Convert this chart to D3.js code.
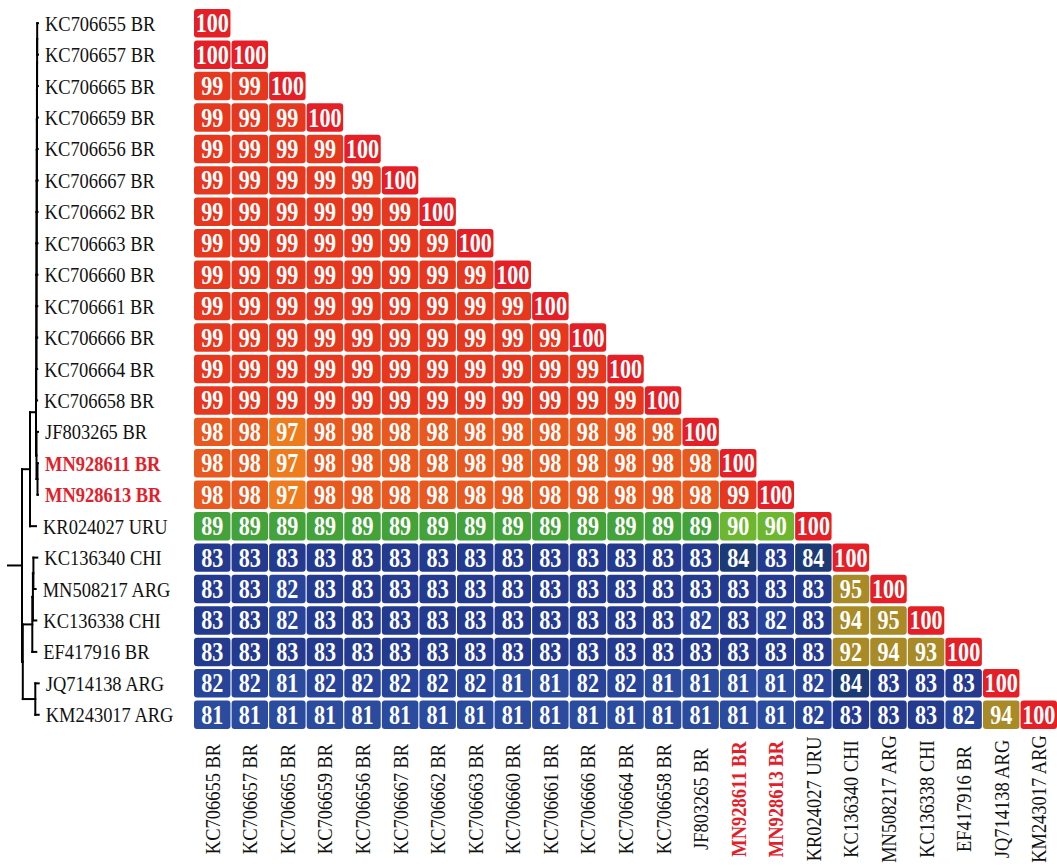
<!DOCTYPE html>
<html>
<head>
<meta charset="utf-8">
<script src="https://cdn.jsdelivr.net/npm/d3@7"></script>
<style>
  body { margin: 0; background: #fff; }
  svg { display: block; }
</style>
</head>
<body>
<svg id="chart" width="1057" height="866"></svg>
<script>
// Isolates, in tree order (rows top to bottom, columns left to right)
const taxa = [
  "KC706655 BR", "KC706657 BR", "KC706665 BR", "KC706659 BR", "KC706656 BR",
  "KC706667 BR", "KC706662 BR", "KC706663 BR", "KC706660 BR", "KC706661 BR",
  "KC706666 BR", "KC706664 BR", "KC706658 BR", "JF803265 BR", "MN928611 BR",
  "MN928613 BR", "KR024027 URU", "KC136340 CHI", "MN508217 ARG", "KC136338 CHI",
  "EF417916 BR", "JQ714138 ARG", "KM243017 ARG"
];

// Isolates sequenced in this study
const highlighted = ["MN928611 BR", "MN928613 BR"];

// Pairwise nucleotide identity (%), lower triangle, one row per isolate
const identityRows = [
  [100],
  [100, 100],
  [99, 99, 100],
  [99, 99, 99, 100],
  [99, 99, 99, 99, 100],
  [99, 99, 99, 99, 99, 100],
  [99, 99, 99, 99, 99, 99, 100],
  [99, 99, 99, 99, 99, 99, 99, 100],
  [99, 99, 99, 99, 99, 99, 99, 99, 100],
  [99, 99, 99, 99, 99, 99, 99, 99, 99, 100],
  [99, 99, 99, 99, 99, 99, 99, 99, 99, 99, 100],
  [99, 99, 99, 99, 99, 99, 99, 99, 99, 99, 99, 100],
  [99, 99, 99, 99, 99, 99, 99, 99, 99, 99, 99, 99, 100],
  [98, 98, 97, 98, 98, 98, 98, 98, 98, 98, 98, 98, 98, 100],
  [98, 98, 97, 98, 98, 98, 98, 98, 98, 98, 98, 98, 98, 98, 100],
  [98, 98, 97, 98, 98, 98, 98, 98, 98, 98, 98, 98, 98, 98, 99, 100],
  [89, 89, 89, 89, 89, 89, 89, 89, 89, 89, 89, 89, 89, 89, 90, 90, 100],
  [83, 83, 83, 83, 83, 83, 83, 83, 83, 83, 83, 83, 83, 83, 84, 83, 84, 100],
  [83, 83, 82, 83, 83, 83, 83, 83, 83, 83, 83, 83, 83, 83, 83, 83, 83, 95, 100],
  [83, 83, 82, 83, 83, 83, 83, 83, 83, 83, 83, 83, 83, 82, 83, 82, 83, 94, 95, 100],
  [83, 83, 83, 83, 83, 83, 83, 83, 83, 83, 83, 83, 83, 83, 83, 83, 83, 92, 94, 93, 100],
  [82, 82, 81, 82, 82, 82, 82, 82, 81, 81, 82, 82, 81, 81, 81, 81, 82, 84, 83, 83, 83, 100],
  [81, 81, 81, 81, 81, 81, 81, 81, 81, 81, 81, 81, 81, 81, 81, 81, 82, 83, 83, 83, 82, 94, 100]
];

// Cell fill per identity value
const identityLevels = [100, 99, 98, 97, 95, 94, 93, 92, 90, 89, 84, 83, 82, 81];
const levelColors = [
  "#e41f26", "#e5381f", "#e8591f", "#ee7b1e", "#a88a26", "#a88a26", "#a88a26", "#a88a26",
  "#6db62f", "#44a23a", "#1c3a76", "#233a8f", "#27449a", "#2b4b9f"
];

// Brazilian KC7066xx group, resolved as a ladder
const kcGroup = taxa.slice(0, 13);

function ladder(names, stem, step, tip) {
  let node = { len: step, children: [{ name: names[0], len: tip }, { name: names[1], len: tip }] };
  for (let i = 2; i < names.length; i++) {
    node = { len: step, children: [node, { name: names[i], len: tip }] };
  }
  node.len = stem;
  return node;
}

// Phylogeny with branch lengths (drawing units)
const phylogeny = {
  len: 14,
  children: [
    { len: 8, children: [
      { len: 6, children: [
        ladder(kcGroup, 0.3, 0.08, 0.8),
        { len: 0.5, children: [
          { name: "JF803265 BR", len: 1.5 },
          { len: 1, children: [
            { name: "MN928611 BR", len: 0.5 },
            { name: "MN928613 BR", len: 0.5 }
          ] }
        ] }
      ] },
      { name: "KR024027 URU", len: 6 }
    ] },
    { len: 0.8, children: [
      { len: 9.5, children: [
        { len: 0.6, children: [
          { len: 0.5, children: [
            { name: "KC136340 CHI", len: 3.9 },
            { name: "MN508217 ARG", len: 2.3 }
          ] },
          { name: "KC136338 CHI", len: 3.4 }
        ] },
        { name: "EF417916 BR", len: 4 }
      ] },
      { len: 12.5, children: [
        { name: "JQ714138 ARG", len: 3.4 },
        { name: "KM243017 ARG", len: 3.4 }
      ] }
    ] }
  ]
};

const svg = d3.select("#chart");
const serif = "'Liberation Serif', 'Times New Roman', serif";

const x = d3.scaleBand().domain(taxa).range([194, 1057]).paddingInner(0.03).paddingOuter(0);
const y = d3.scaleBand().domain(taxa).range([9, 729]).paddingInner(0.095).paddingOuter(0);
const color = d3.scaleOrdinal().domain(identityLevels).range(levelColors);

// ---- heatmap cells ----
const cells = [];
identityRows.forEach((row, i) => {
  row.forEach((v, j) => cells.push({ r: taxa[i], c: taxa[j], v }));
});

const cellG = svg.append("g").selectAll("g").data(cells).join("g")
  .attr("transform", d => `translate(${x(d.c)},${y(d.r)})`);

cellG.append("rect")
  .attr("width", x.bandwidth())
  .attr("height", y.bandwidth())
  .attr("rx", 3).attr("ry", 3)
  .attr("fill", d => color(d.v));

cellG.append("text")
  .attr("transform", `translate(${x.bandwidth() / 2},${y.bandwidth() / 2 + 9}) scale(0.82,1)`)
  .attr("text-anchor", "middle")
  .attr("font-family", serif)
  .attr("font-weight", "bold")
  .attr("font-size", 27)
  .attr("fill", "#fff")
  .text(d => d.v);

// ---- dendrogram ----
const root = d3.hierarchy(phylogeny);
const tx = d3.scaleLinear().domain([0, 32]).range([8, 40]);

root.eachBefore(n => {
  n.depthLen = (n.parent ? n.parent.depthLen : 0) + n.data.len;
  n.px = tx(n.depthLen);
});
root.eachAfter(n => {
  if (n.children) {
    n.py = (n.children[0].py + n.children[n.children.length - 1].py) / 2;
  } else {
    n.py = y(n.data.name) + y.bandwidth() / 2;
  }
});

const treeG = svg.append("g")
  .attr("stroke", "#000")
  .attr("stroke-width", 2)
  .attr("fill", "none")
  .attr("stroke-linecap", "square");

// horizontal branches
root.descendants().forEach(n => {
  const x0 = n.parent ? n.parent.px : tx(0);
  treeG.append("line")
    .attr("x1", x0).attr("x2", n.px)
    .attr("y1", n.py).attr("y2", n.py);
});
// vertical connectors
root.descendants().filter(n => n.children).forEach(n => {
  treeG.append("line")
    .attr("x1", n.px).attr("x2", n.px)
    .attr("y1", n.children[0].py)
    .attr("y2", n.children[n.children.length - 1].py);
});

// ---- row labels at the tips ----
svg.append("g").selectAll("text").data(root.leaves()).join("text")
  .attr("transform", d => `translate(${d.px + 7},${d.py + 7.5}) scale(0.84,1)`)
  .attr("font-family", serif)
  .attr("font-size", 22)
  .attr("font-weight", d => highlighted.includes(d.data.name) ? "bold" : "normal")
  .attr("fill", d => highlighted.includes(d.data.name) ? "#e3202a" : "#111")
  .text(d => d.data.name);

// ---- column labels ----
svg.append("g").selectAll("text").data(taxa).join("text")
  .attr("transform", d => `translate(${x(d) + x.bandwidth() / 2 + 7.5},799) rotate(-90) scale(0.84,1)`)
  .attr("text-anchor", "middle")
  .attr("font-family", serif)
  .attr("font-size", 22)
  .attr("font-weight", d => highlighted.includes(d) ? "bold" : "normal")
  .attr("fill", d => highlighted.includes(d) ? "#e3202a" : "#111")
  .text(d => d);
</script>
</body>
</html>
